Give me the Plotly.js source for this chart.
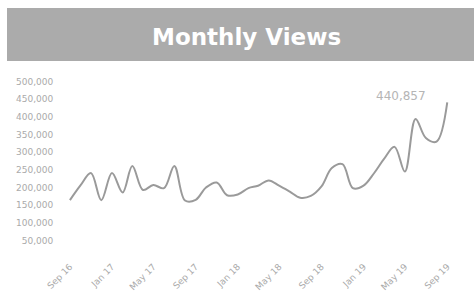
<!DOCTYPE html>
<html>
<head>
<meta charset="utf-8">
<script src="https://cdn.plot.ly/plotly-3.0.1.min.js"></script>
<style>
html,body{margin:0;padding:0;background:#fff;}
#chart{width:474px;height:298px;}
</style>
</head>
<body>
<div id="chart"></div>
<script>
const months = ["2016-09-01","2016-10-01","2016-11-01","2016-12-01","2017-01-01","2017-02-01","2017-03-01","2017-04-01","2017-05-01","2017-06-01","2017-07-01","2017-08-01","2017-09-01","2017-10-01","2017-11-01","2017-12-01","2018-01-01","2018-02-01","2018-03-01","2018-04-01","2018-05-01","2018-06-01","2018-07-01","2018-08-01","2018-09-01","2018-10-01","2018-11-01","2018-12-01","2019-01-01","2019-02-01","2019-03-01","2019-04-01","2019-05-01","2019-06-01","2019-07-01","2019-08-01","2019-09-01"];
const views = [164000,205000,241000,164000,241000,186000,261000,193000,207000,198000,261000,163000,165000,200000,214000,178000,180000,198000,205000,220000,205000,188000,171000,176000,203000,255000,266000,198000,205000,241000,280000,315000,245000,394000,340000,330000,440857];
const tickDates = ["2016-09-01","2017-01-01","2017-05-01","2017-09-01","2018-01-01","2018-05-01","2018-09-01","2019-01-01","2019-05-01","2019-09-01"];
const titleText = "Monthly Views";
const lastLabel = "440,857";

const L = 62, B = 47, T = 71, W = 398, H = 180;
const px = v => (v - L) / W;
const py = v => (298 - B - v) / H;

const trace = {
  x: months, y: views, type: "scatter", mode: "lines",
  line: {color: "#9a9a9a", width: 2, shape: "spline", smoothing: 1},
  hoverinfo: "skip"
};
const layout = {
  width: 474, height: 298,
  margin: {l: L, r: 474 - L - W, t: T, b: B},
  paper_bgcolor: "#fff", plot_bgcolor: "#fff",
  showlegend: false,
  font: {family: "DejaVu Sans, sans-serif", color: "#aaa"},
  xaxis: {
    type: "date", range: ["2016-08-09", "2019-10-08"],
    tickvals: tickDates, tickformat: "%b %y", tickangle: -45,
    tickfont: {size: 9, color: "#aaa"},
    showgrid: false, zeroline: false, showline: false,
    ticks: "outside", ticklen: 6, tickcolor: "rgba(0,0,0,0)"
  },
  yaxis: {
    range: [20000, 530000], dtick: 50000, tick0: 0, tickformat: ",",
    tickfont: {size: 9, color: "#aaa"},
    showgrid: false, zeroline: false, showline: false,
    ticks: "outside", ticklen: 6, tickcolor: "rgba(0,0,0,0)"
  },
  shapes: [{
    type: "rect", xref: "paper", yref: "paper", layer: "below",
    x0: px(7), x1: px(474), y0: py(61), y1: py(8),
    fillcolor: "#ababab", line: {width: 0}
  }],
  annotations: [
    {xref: "paper", yref: "paper", x: px(246), y: py(37),
     text: titleText, showarrow: false, xanchor: "center", yanchor: "middle",
     font: {family: "DejaVu Sans, sans-serif", size: 23, color: "#fff", weight: "bold"}},
    {x: months[months.length-1], y: views[views.length-1], text: lastLabel,
     showarrow: false, xanchor: "right", yanchor: "middle", xshift: -19, yshift: 6,
     font: {family: "DejaVu Sans, sans-serif", size: 12, color: "#b5b5b5"}}
  ]
};
Plotly.newPlot("chart", [trace], layout, {displayModeBar: false, staticPlot: true});
</script>
</body>
</html>
